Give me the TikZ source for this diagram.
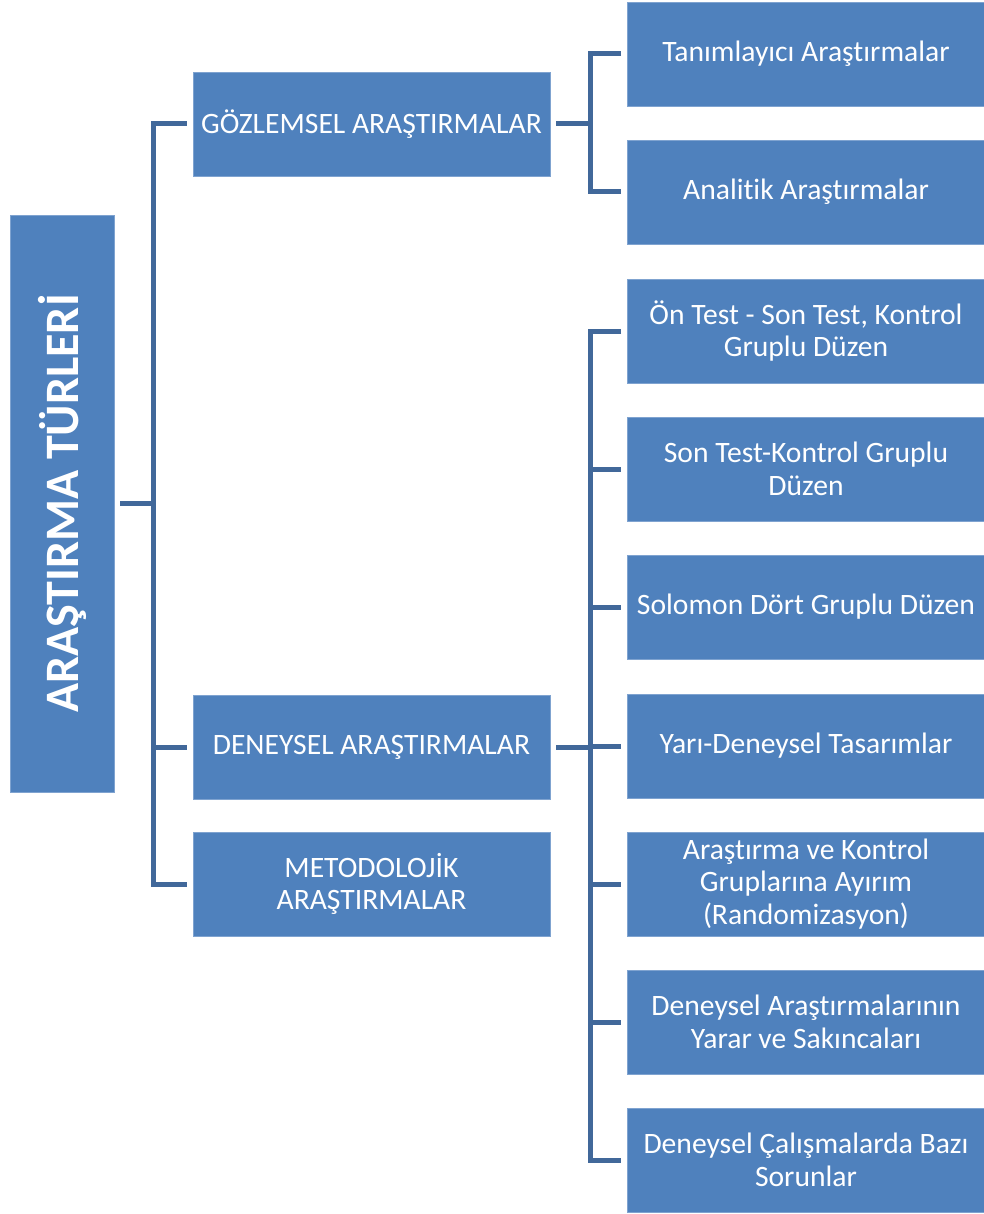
\documentclass[tikz,border=0pt]{standalone}
\usepackage{fontspec}
\setmainfont[Ligatures=NoCommon]{Carlito}
\definecolor{boxblue}{HTML}{4F81BD}
\definecolor{boxedge}{HTML}{7FA3D0}
\definecolor{linkblue}{HTML}{41689A}
\begin{document}
\begin{tikzpicture}[x=1pt,y=-1pt,
  box/.style={rectangle, fill=boxblue, draw=boxedge, line width=0.8pt,
    minimum width=357, minimum height=104, inner sep=0pt, align=center,
    text=white, font=\fontsize{29.6}{32.5}\selectfont},
  rootbox/.style={box, minimum width=104, minimum height=577},
  conn/.style={draw=linkblue, line width=5pt}]
\useasboundingbox (0,0) rectangle (984,1214);

% root
\node[rootbox] (root) at (62,503.5)
  {\rotatebox{90}{\fontsize{48}{52}\selectfont\bfseries ARAŞTIRMA TÜRLERİ}};

% second level
\node[box] (g) at (371.5,124) {GÖZLEMSEL ARAŞTIRMALAR};
\node[box] (d) at (371.5,747) {DENEYSEL ARAŞTIRMALAR};
\node[box] (m) at (371.5,884) {METODOLOJİK\\ARAŞTIRMALAR};

% third level
\node[box] (g1) at (806,54) {Tanımlayıcı Araştırmalar};
\node[box] (g2) at (806,192) {Analitik Araştırmalar};
\node[box] (d1) at (806,331) {Ön Test - Son Test, Kontrol\\Gruplu Düzen};
\node[box] (d2) at (806,469) {Son Test-Kontrol Gruplu\\Düzen};
\node[box] (d3) at (806,607) {Solomon Dört Gruplu Düzen};
\node[box] (d4) at (806,746) {Yarı-Deneysel Tasarımlar};
\node[box] (d5) at (806,884) {Araştırma ve Kontrol\\Gruplarına Ayırım\\(Randomizasyon)};
\node[box] (d6) at (806,1022) {Deneysel Araştırmalarının\\Yarar ve Sakıncaları};
\node[box] (d7) at (806,1160) {Deneysel Çalışmalarda Bazı\\Sorunlar};

% trunk positions
\coordinate (t1) at (153.5,0);
\coordinate (t2) at (590,0);

% root to second level
\draw[conn] ([xshift=6]root.east) -- (root.east -| t1);
\draw[conn] ([xshift=-6]g.west) -- (g.west -| t1) -- (m.west -| t1) -- ([xshift=-6]m.west);
\draw[conn] (d.west -| t1) -- ([xshift=-6]d.west);

% observational branch
\draw[conn] ([xshift=6]g.east) -- (g.east -| t2);
\draw[conn] ([xshift=-6]g1.west) -- (g1.west -| t2) -- (g2.west -| t2) -- ([xshift=-6]g2.west);

% experimental branch
\draw[conn] ([xshift=6]d.east) -- (d.east -| t2);
\draw[conn] ([xshift=-6]d1.west) -- (d1.west -| t2) -- (d7.west -| t2) -- ([xshift=-6]d7.west);
\foreach \n in {d2,d3,d4,d5,d6}
  \draw[conn] (\n.west -| t2) -- ([xshift=-6]\n.west);
\end{tikzpicture}
\end{document}
